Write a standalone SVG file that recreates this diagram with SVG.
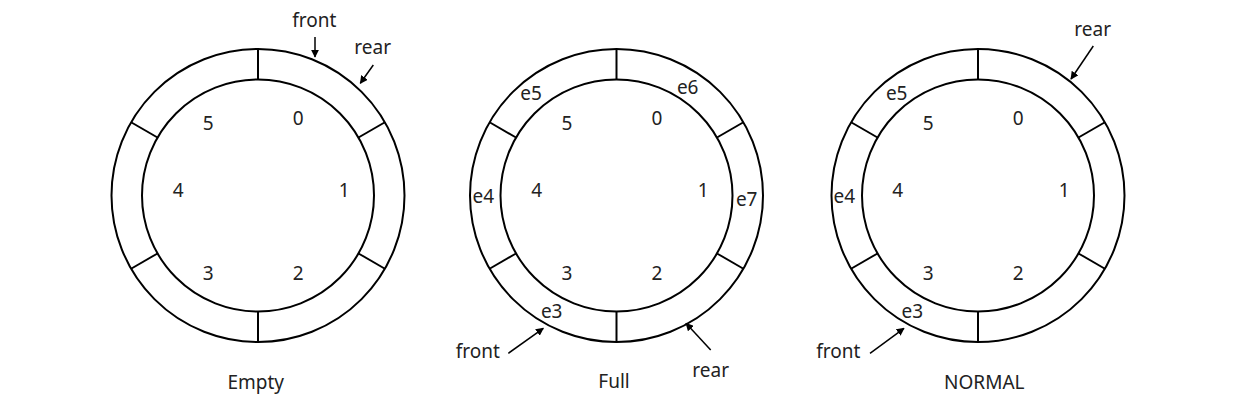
<svg xmlns="http://www.w3.org/2000/svg" width="1244" height="406" viewBox="0 0 1244 406">
<style>
.ring{fill:none;stroke:#000;stroke-width:2}
.div{stroke:#000;stroke-width:2}
.lbl{font-family:"Noto Sans","Liberation Sans",sans-serif;font-size:19px;fill:#222;text-anchor:middle}
.arr{stroke:#000;stroke-width:1.5;fill:none;marker-end:url(#ah)}
</style>
<defs>
<marker id="ah" viewBox="0 0 10 10" refX="9" refY="5" markerWidth="8" markerHeight="8" markerUnits="userSpaceOnUse" orient="auto">
<path d="M0,0 L10,5 L0,10 z" fill="#000"/>
</marker>
<g id="ringshape">
<circle class="ring" cx="0" cy="0" r="146.5"/>
<circle class="ring" cx="0" cy="0" r="116"/>
<line class="div" x1="0" y1="-116" x2="0" y2="-146.5"/>
<line class="div" x1="0" y1="116" x2="0" y2="146.5"/>
<line class="div" x1="100.5" y1="-58" x2="126.9" y2="-73.25"/>
<line class="div" x1="100.5" y1="58" x2="126.9" y2="73.25"/>
<line class="div" x1="-100.5" y1="-58" x2="-126.9" y2="-73.25"/>
<line class="div" x1="-100.5" y1="58" x2="-126.9" y2="73.25"/>
</g>
</defs>
<rect width="1244" height="406" fill="#fff"/>

<g id="empty">
<use href="#ringshape" x="258" y="195.5"/>
<text class="lbl" x="298.3" y="125">0</text>
<text class="lbl" x="344.3" y="197">1</text>
<text class="lbl" x="298.3" y="280">2</text>
<text class="lbl" x="208.3" y="280">3</text>
<text class="lbl" x="178.3" y="197">4</text>
<text class="lbl" x="208.3" y="130">5</text>
<text class="lbl" x="255.7" y="389">Empty</text>
</g>

<g id="full">
<use href="#ringshape" x="616.5" y="195.5"/>
<text class="lbl" x="657" y="125">0</text>
<text class="lbl" x="703.3" y="197">1</text>
<text class="lbl" x="657" y="280">2</text>
<text class="lbl" x="567" y="280">3</text>
<text class="lbl" x="536.7" y="197">4</text>
<text class="lbl" x="567" y="130">5</text>
<text class="lbl" x="531" y="100">e5</text>
<text class="lbl" x="687.7" y="93.5">e6</text>
<text class="lbl" x="483.3" y="203">e4</text>
<text class="lbl" x="746.7" y="206">e7</text>
<text class="lbl" x="551.7" y="318">e3</text>
<text class="lbl" x="614" y="388">Full</text>
</g>

<g id="normal">
<use href="#ringshape" x="978" y="195.5"/>
<text class="lbl" x="1018.3" y="125">0</text>
<text class="lbl" x="1064.3" y="197">1</text>
<text class="lbl" x="1018.3" y="280">2</text>
<text class="lbl" x="928.3" y="280">3</text>
<text class="lbl" x="897.7" y="197">4</text>
<text class="lbl" x="928.3" y="130">5</text>
<text class="lbl" x="896.7" y="100">e5</text>
<text class="lbl" x="844.3" y="203">e4</text>
<text class="lbl" x="912.3" y="318">e3</text>
<text class="lbl" x="984.3" y="389">NORMAL</text>
</g>

<g id="pointer-labels">
<text class="lbl" x="314.3" y="27">front</text>
<text class="lbl" x="372.7" y="53.5">rear</text>
<text class="lbl" x="477.7" y="358">front</text>
<text class="lbl" x="710.7" y="376.5">rear</text>
<text class="lbl" x="1092.7" y="36">rear</text>
<text class="lbl" x="838.3" y="358">front</text>
</g>

<g id="connectors">
<line class="arr" x1="315" y1="37" x2="315" y2="57"/>
<line class="arr" x1="373.3" y1="65" x2="360.3" y2="83.3"/>
<line class="arr" x1="508.3" y1="353.3" x2="543.3" y2="328.3"/>
<line class="arr" x1="710.7" y1="350" x2="686" y2="323.3"/>
<line class="arr" x1="1093.3" y1="46" x2="1071" y2="79"/>
<line class="arr" x1="870" y1="353.3" x2="904" y2="328.3"/>
</g>
</svg>
